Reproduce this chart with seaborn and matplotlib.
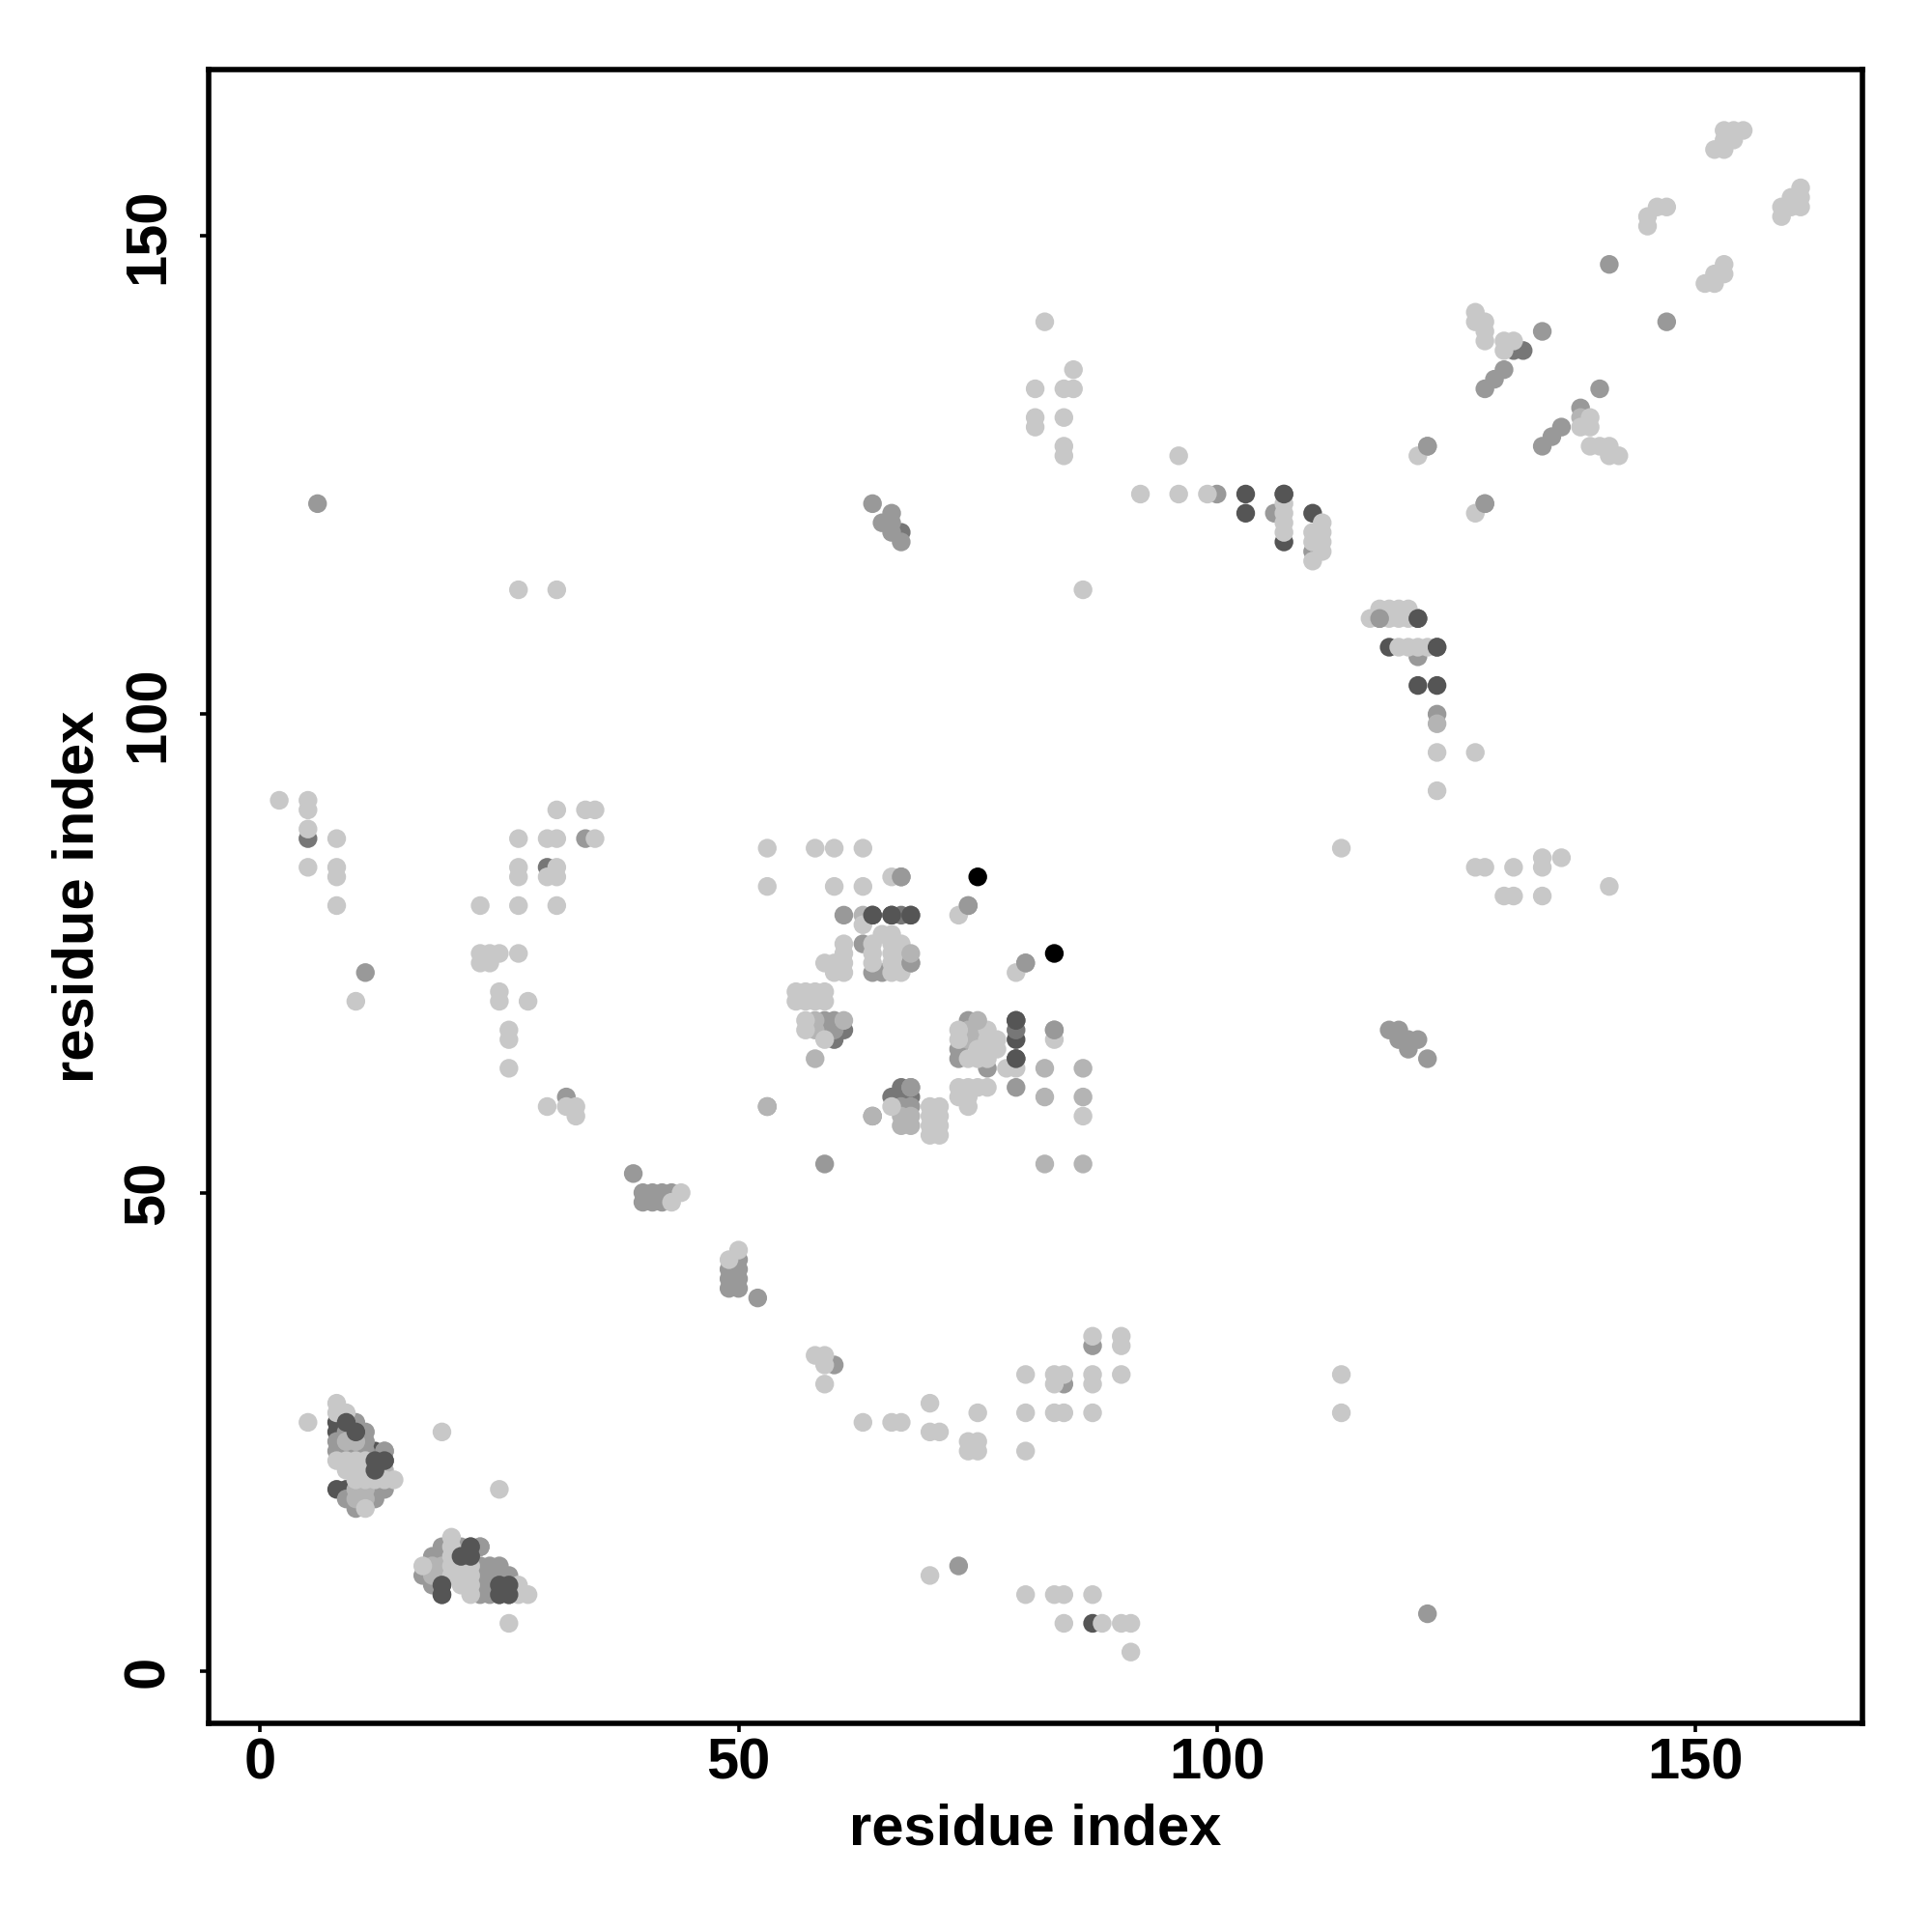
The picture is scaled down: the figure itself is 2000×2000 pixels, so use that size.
import pandas as pd
import matplotlib
matplotlib.use("Agg")
import matplotlib.pyplot as plt
import seaborn as sns

# contact pairs (residue i, residue j), grouped by grey level
# later groups are drawn on top of earlier ones
black_pairs = [(75, 83), (83, 75)]

dark_pairs = [
    (8, 26), (8, 25), (9, 26), (10, 25), (12, 23), (12, 22), (12, 21), (13, 22),
    (8, 19), (9, 19), (22, 13), (21, 12), (22, 12), (19, 9), (19, 8),
    (25, 9), (26, 9), (25, 8), (26, 8),
    (64, 79), (66, 79), (79, 68), (79, 66), (79, 64),
    (103, 123), (103, 121), (107, 118), (110, 121), (118, 107), (121, 110),
    (121, 103), (123, 103), (87, 5),
]

middark_pairs = [
    (5, 87), (30, 84), (67, 79), (68, 79), (79, 67), (60, 66), (61, 67), (66, 60),
    (67, 61), (67, 60), (68, 60), (107, 123), (123, 107), (67, 119), (132, 138), (131, 138),
]

mid_pairs = [
    (6, 122), (11, 73), (34, 87), (32, 60), (39, 52),
    (40, 50), (41, 50), (42, 50), (43, 50), (40, 49), (41, 49), (42, 49),
    (50, 43), (49, 42), (50, 42), (49, 41), (50, 41), (49, 40), (50, 40), (52, 39),
    (59, 53), (53, 59), (60, 32), (84, 30), (87, 34), (73, 11), (122, 6),
    (61, 79), (63, 76), (64, 73), (65, 73), (68, 74), (67, 83), (74, 80), (80, 74),
    (59, 68), (60, 68), (59, 67), (60, 67), (68, 61), (67, 59), (68, 59),
    (74, 68), (73, 65), (73, 64), (76, 63), (79, 61), (83, 67), (64, 58),
    (8, 24), (8, 23), (9, 23), (10, 23), (11, 23), (10, 26), (11, 25), (11, 24), (9, 25),
    (9, 18), (10, 17), (12, 18), (12, 19), (13, 19), (13, 23),
    (19, 13), (18, 12), (19, 12), (17, 10), (18, 9), (23, 11), (23, 10), (23, 9),
    (24, 11), (25, 11), (24, 10), (25, 10), (26, 10), (24, 9), (23, 8), (24, 8),
    (21, 13), (23, 13),
    (64, 122), (65, 120), (66, 121), (66, 120), (66, 119), (67, 118),
    (100, 123), (106, 121), (117, 110), (121, 106), (123, 100), (110, 117),
    (118, 67), (119, 67), (119, 66), (120, 66), (121, 66), (120, 65), (122, 64),
    (122, 128), (128, 122), (134, 140), (128, 134), (129, 135), (130, 136),
    (140, 134), (138, 132), (134, 128), (135, 129), (136, 130),
    (141, 147), (147, 141),
]

midlight_pairs = [
    (58, 68), (58, 67), (61, 68), (58, 64), (63, 79), (67, 58), (68, 58),
    (74, 67), (74, 66), (75, 67), (75, 66), (64, 58), (53, 59),
    (67, 57), (68, 57), (82, 63), (86, 63), (82, 60), (86, 60), (82, 53), (86, 53),
    (10, 24), (9, 24), (13, 21), (10, 18), (10, 19), (11, 18), (11, 19),
    (18, 11), (19, 11), (18, 10), (19, 10), (123, 99), (138, 131),
]

light_pairs = [
    (2, 91), (5, 91), (5, 90), (5, 88), (5, 84), (8, 87), (8, 84), (8, 83), (8, 80), (10, 70),
    (27, 113), (31, 113), (23, 80), (27, 80), (31, 80), (27, 87), (30, 87), (31, 87),
    (31, 90), (34, 90), (35, 90), (35, 87), (27, 84), (27, 83), (31, 84), (30, 83), (31, 83),
    (23, 75), (24, 75), (25, 75), (23, 74), (24, 74), (27, 75), (25, 71), (25, 70), (28, 70),
    (26, 67), (26, 66), (26, 63), (30, 59), (32, 59), (33, 59), (33, 58),
    (44, 50), (43, 49), (50, 44), (49, 43), (86, 58),
    (53, 82), (53, 86), (58, 86), (60, 86), (63, 86), (60, 82), (63, 82), (66, 83),
    (73, 79), (63, 78), (61, 76), (61, 75), (61, 74), (59, 74), (60, 74), (60, 73), (61, 73),
    (64, 76), (64, 75), (64, 74), (65, 77), (66, 77), (67, 76), (66, 75), (67, 75),
    (66, 74), (67, 74), (66, 76), (66, 73), (67, 73), (79, 73),
    (56, 71), (57, 71), (58, 71), (59, 71), (56, 70), (57, 70), (58, 70), (59, 70),
    (57, 68), (57, 67), (59, 66), (66, 59),
    (70, 59), (71, 59), (70, 58), (71, 58), (70, 57), (71, 57), (70, 56), (71, 56),
    (73, 61), (73, 60), (74, 61), (74, 60), (74, 59), (75, 61), (76, 61),
    (73, 67), (73, 66), (76, 67), (77, 66), (77, 65), (76, 66), (76, 65), (75, 65),
    (76, 64), (74, 64), (75, 64), (78, 63), (79, 63), (83, 66),
    (5, 26), (19, 25), (25, 19), (26, 5), (8, 28), (8, 27), (9, 27), (8, 22),
    (9, 22), (10, 22), (11, 22), (9, 21), (10, 21), (11, 21),
    (10, 20), (11, 20), (12, 20), (13, 20), (14, 20), (11, 17),
    (20, 14), (17, 11), (20, 13), (20, 12), (20, 11), (21, 11), (22, 11),
    (20, 10), (21, 10), (22, 10), (21, 9), (22, 9), (22, 8), (27, 9), (27, 8), (28, 8),
    (70, 10), (80, 8), (83, 8), (84, 8), (87, 8), (84, 5), (88, 5), (90, 5), (91, 5), (91, 2),
    (113, 31), (113, 27), (80, 23), (80, 27), (80, 31), (83, 31), (84, 31), (83, 30),
    (87, 31), (87, 30), (87, 35), (90, 35), (90, 34), (90, 31), (83, 27), (84, 27), (87, 27),
    (58, 33), (59, 33), (59, 32), (59, 30), (63, 26), (66, 26), (67, 26), (70, 28),
    (70, 25), (71, 25), (75, 27), (74, 24), (75, 24), (74, 23), (75, 23),
    (127, 84), (128, 84), (131, 84), (130, 81), (131, 81), (134, 85), (134, 84), (136, 85),
    (134, 81), (141, 82), (113, 86), (127, 96), (123, 96), (123, 92),
    (107, 122), (107, 121), (107, 120), (107, 119), (110, 119), (110, 118), (110, 116),
    (111, 120), (111, 119), (111, 118), (111, 117),
    (116, 110), (117, 111), (118, 111), (119, 111), (120, 111), (118, 110), (119, 110), (120, 110),
    (119, 107), (120, 107), (121, 107), (122, 107),
    (99, 123), (96, 123), (92, 123), (96, 127), (127, 121), (86, 113),
    (82, 141), (81, 134), (84, 134), (85, 134), (85, 136), (81, 131), (81, 130), (84, 131),
    (84, 128), (84, 127), (121, 127),
    (127, 142), (127, 141), (128, 141), (128, 140), (128, 139),
    (130, 139), (131, 139), (130, 138),
    (139, 131), (139, 130), (138, 130), (139, 128), (140, 128), (141, 128), (141, 127), (142, 127),
    (145, 152), (145, 151), (146, 153), (147, 153),
    (151, 145), (152, 145), (152, 146), (153, 146), (153, 147),
    (152, 159), (153, 159), (153, 160), (154, 160), (153, 161), (154, 161), (155, 161),
    (159, 152), (159, 153), (160, 153), (160, 154), (161, 154), (161, 153), (161, 155),
]

# these sit above the light ones in the clusters
top_mid_pairs = [(13, 23), (23, 13), (68, 61), (68, 74), (67, 83),
                 (117, 110), (80, 74), (74, 80), (83, 67), (122, 128), (128, 122)]
top_midlight_pairs = [(68, 75), (75, 68)]
top_dark_pairs = [(64, 79), (66, 79), (68, 79), (79, 68), (79, 64), (121, 110), (123, 107), (107, 123),
                  (9, 26), (10, 25), (12, 22), (12, 21), (13, 22), (19, 9), (19, 8),
                  (21, 12), (22, 12), (22, 13), (25, 9), (26, 9), (25, 8), (26, 8)]

shade_colors = {
    "black": "#000000",
    "dark": "#555555",
    "middark": "#777777",
    "mid": "#999999",
    "midlight": "#b4b4b4",
    "light": "#c8c8c8",
}

layers = [
    ("black", black_pairs), ("dark", dark_pairs), ("middark", middark_pairs),
    ("mid", mid_pairs), ("midlight", midlight_pairs), ("light", light_pairs),
    ("mid", top_mid_pairs), ("midlight", top_midlight_pairs), ("dark", top_dark_pairs),
]

rows = []
for shade, pairs in layers:
    for i, j in pairs:
        rows.append({"i": i, "j": j, "shade": shade})
df = pd.DataFrame(rows)

sns.set_style("white")
plt.rcParams["font.family"] = ["Liberation Sans", "DejaVu Sans"]
plt.rcParams["font.weight"] = "bold"
plt.rcParams["text.color"] = "black"
plt.rcParams["axes.labelcolor"] = "black"
plt.rcParams["xtick.labelcolor"] = "black"
plt.rcParams["ytick.labelcolor"] = "black"

fig = plt.figure(figsize=(20, 20), dpi=100)
ax = fig.add_axes([216 / 2000, 1 - 1784 / 2000, 1712 / 2000, 1712 / 2000])

sns.scatterplot(data=df, x="i", y="j", hue="shade", palette=shade_colors,
                s=195, linewidth=0, legend=False, ax=ax)

ax.set_xlim(-5.38, 167.46)
ax.set_ylim(-5.45, 167.36)
ax.set_xticks([0, 50, 100, 150])
ax.set_yticks([0, 50, 100, 150])

for spine in ax.spines.values():
    spine.set_visible(True)
    spine.set_color("black")
    spine.set_linewidth(4.0)

ax.tick_params(axis="both", which="major", bottom=True, left=True, length=6.5, width=2.6,
               color="black", labelsize=43)
ax.tick_params(axis="x", pad=4)
ax.tick_params(axis="y", pad=18.5)
plt.setp(ax.get_yticklabels(), rotation=90, va="center")

ax.set_xlabel("residue index", fontsize=43, fontweight="bold", labelpad=9)
ax.set_ylabel("residue index", fontsize=43, fontweight="bold", labelpad=13)

fig.savefig("out.png", dpi=100, facecolor="white")
